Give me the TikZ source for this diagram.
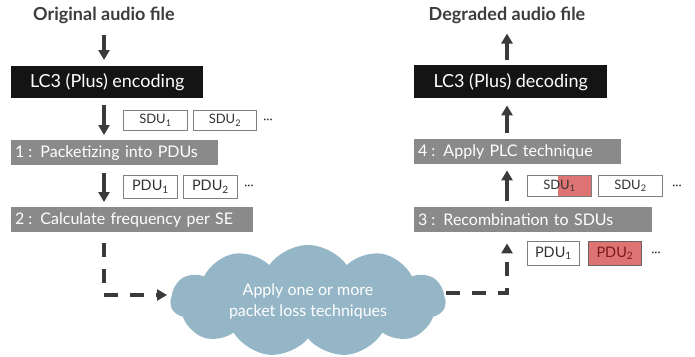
\documentclass[tikz,border=0pt]{standalone}
\usepackage{fontspec}
\setmainfont{Lato}
\usetikzlibrary{arrows.meta,shapes.symbols,backgrounds}
\definecolor{titlec}{HTML}{3D3D3D}
\definecolor{arrc}{HTML}{3A3A3A}
\definecolor{blackc}{HTML}{141414}
\definecolor{grayc}{HTML}{8A8A8A}
\definecolor{cloudc}{HTML}{95B6C6}
\definecolor{redc}{HTML}{DE7373}
\definecolor{darkred}{HTML}{7A1C1C}
\definecolor{bordc}{HTML}{7F7F7F}
\definecolor{txtc}{HTML}{333333}
\begin{document}
\begin{tikzpicture}[x=1pt,y=-1pt,
  titlenode/.style={font=\bfseries\fontsize{18}{20}\selectfont, text=titlec, inner sep=0pt},
  blk/.style={fill=blackc, text=white, font=\fontsize{18}{20}\selectfont, anchor=north west, inner sep=0pt},
  stepbox/.style={fill=grayc, text=white, font=\fontsize{16}{18}\selectfont, anchor=north west, inner xsep=4pt, inner ysep=0pt, minimum height=25pt, align=left},
  smallbox/.style={draw=bordc, line width=0.8pt, fill=white, text=txtc, anchor=north west, inner sep=0pt},
  sdu/.style={smallbox, font=\fontsize{13}{14}\selectfont, minimum height=20pt},
  pdu/.style={smallbox, font=\fontsize{14.5}{16}\selectfont, minimum height=23pt},
  dotsnode/.style={text=txtc, font=\fontsize{12}{12}\selectfont, inner sep=0pt},
  arr/.style={draw=arrc, line width=3.5pt, -{Triangle[length=10pt,width=11pt]}},
  dasharr/.style={arr, dash pattern=on 14pt off 12pt},
]
\useasboundingbox (0,0) rectangle (695,356);

% titles
\node[titlenode] (t1) at (104,15) {Original audio file};
\node[titlenode] (t2) at (507,15) {Degraded audio file};

% black boxes
\node[blk, minimum width=192pt, minimum height=32pt] (enc) at (11,66) {LC3 (Plus) encoding};
\node[blk, minimum width=193pt, minimum height=33pt] (dec) at (414,65) {LC3 (Plus) decoding};

% step boxes
\node[stepbox, text width=199pt] (s1) at (11,140) {1\kern4pt: Packetizing into PDUs};
\node[stepbox, text width=234pt] (s2) at (11,207) {2\kern4pt: Calculate frequency per SE};
\node[stepbox, text width=199pt] (s4) at (414,139) {4\kern4pt: Apply PLC technique};
\node[stepbox, text width=230pt] (s3) at (414,207) {3\kern4pt: Recombination to SDUs};

% left small boxes
\node[sdu, minimum width=64pt] (lsdu1) at (123,110) {SDU\textsubscript{1}};
\node[sdu, minimum width=63pt] (lsdu2) at (193,110) {SDU\textsubscript{2}};
\node[dotsnode] (ldots1) at (268,121) {···};
\node[pdu, minimum width=54pt] (lpdu1) at (123,175) {PDU\textsubscript{1}};
\node[pdu, minimum width=54pt] (lpdu2) at (183,175) {PDU\textsubscript{2}};
\node[dotsnode] (ldots2) at (249,187) {···};

% right small boxes
\node[sdu, fill=none, minimum width=64pt, minimum height=21pt] (rsdu1) at (527,175) {SDU\textsubscript{1}};
\begin{scope}[on background layer]
  \fill[white] (rsdu1.north west) rectangle (rsdu1.south east);
  \fill[redc] ([xshift=-34pt]rsdu1.north east) rectangle (rsdu1.south east);
\end{scope}
\node[sdu, minimum width=64pt, minimum height=21pt] (rsdu2) at (598,175) {SDU\textsubscript{2}};
\node[dotsnode] (rdots1) at (677,187) {···};
\node[pdu, minimum width=52pt, minimum height=24pt] (rpdu1) at (527,241) {PDU\textsubscript{1}};
\node[pdu, fill=redc, draw=bordc!80!black, text=darkred, minimum width=53pt, minimum height=24pt] (rpdu2) at (588,241) {PDU\textsubscript{2}};
\node[dotsnode] (rdots2) at (656,254) {···};

% cloud
\node[cloud, cloud puffs=11, cloud puff arc=110, aspect=2.7, fill=cloudc, minimum width=275pt, minimum height=91pt, inner sep=0pt, text=white, align=center, font=\fontsize{16}{21}\selectfont] (cloud) at (308,301) {Apply one or more\\packet loss techniques};

% connectors left
\draw[dasharr, shorten <=11pt, shorten >=3pt] (s2.south -| t1) |- ([yshift=6pt]cloud.west);
\draw[arr, shorten <=11pt, shorten >=6pt] (t1.south) -- (t1.south |- enc.north);
\draw[arr, shorten <=7pt, shorten >=5pt] (enc.south -| t1) -- (s1.north -| t1);
\draw[arr, shorten <=8pt, shorten >=5pt] (s1.south -| t1) -- (s2.north -| t1);

% connectors right
\draw[dasharr, shorten >=11pt] ([yshift=8pt]cloud.east) -| (s3.south -| t2);
\draw[arr, shorten <=6pt, shorten >=6pt] (s3.north -| t2) -- (s4.south -| t2);
\draw[arr, shorten <=6pt, shorten >=7pt] (s4.north -| t2) -- (dec.south -| t2);
\draw[arr, shorten <=5pt, shorten >=10pt] (dec.north -| t2) -- (t2.south);
\end{tikzpicture}
\end{document}
